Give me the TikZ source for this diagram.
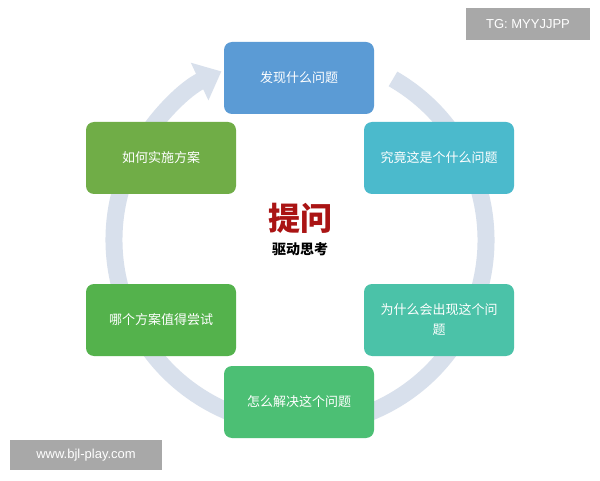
\documentclass[tikz,border=0pt]{standalone}
\usepackage{fontspec}
\setmainfont{Liberation Sans}
\newfontfamily\cjk{Noto Sans CJK SC}
\usetikzlibrary{arrows.meta}
\definecolor{cA}{RGB}{91,155,213}
\definecolor{cB}{RGB}{75,186,204}
\definecolor{cC}{RGB}{75,194,168}
\definecolor{cD}{RGB}{76,191,116}
\definecolor{cE}{RGB}{84,178,76}
\definecolor{cF}{RGB}{112,173,71}
\definecolor{ring}{RGB}{216,224,236}
\definecolor{wm}{RGB}{168,168,168}
\definecolor{dred}{RGB}{170,20,20}
\tikzset{
  stage/.style={rounded corners=8pt, minimum width=150pt, minimum height=72pt, text width=130pt, align=center, text=white, font=\cjk\fontsize{13}{20}\selectfont, inner sep=0pt},
  wmbox/.style={fill=wm, text=white, inner sep=0pt, font=\fontsize{13}{15}\selectfont}
}
\begin{document}
\begin{tikzpicture}[x=1pt,y=1pt]
\useasboundingbox (0,0) rectangle (600,480);
\fill[white] (0,0) rectangle (600,480);
\draw[ring, line width=17pt, -{Triangle[width=40pt,length=24pt]}] (300,240) ++(60:186) arc[start angle=60, end angle=-245, radius=186];
\node[stage, fill=cA] (a) at (299,402) {发现什么问题};
\node[stage, fill=cB] (b) at (439,322) {究竟这是个什么问题};
\node[stage, fill=cC] (c) at (439,160) {为什么会出现这个问\\题};
\node[stage, fill=cD] (d) at (299,78) {怎么解决这个问题};
\node[stage, fill=cE] (e) at (161,160) {哪个方案值得尝试};
\node[stage, fill=cF] (f) at (161,322) {如何实施方案};
\node[text=dred, font=\cjk\bfseries\fontsize{32}{36}\selectfont] (t) at (300,262) {提问};
\node[font=\cjk\bfseries\fontsize{14}{16}\selectfont] (s) at (300,231) {驱动思考};
\node[wmbox, minimum width=124pt, minimum height=32pt] (w1) at (528,456) {TG: MYYJJPP};
\node[wmbox, minimum width=152pt, minimum height=30pt] (w2) at (86,25) {www.bjl-play.com};
\end{tikzpicture}
\end{document}
